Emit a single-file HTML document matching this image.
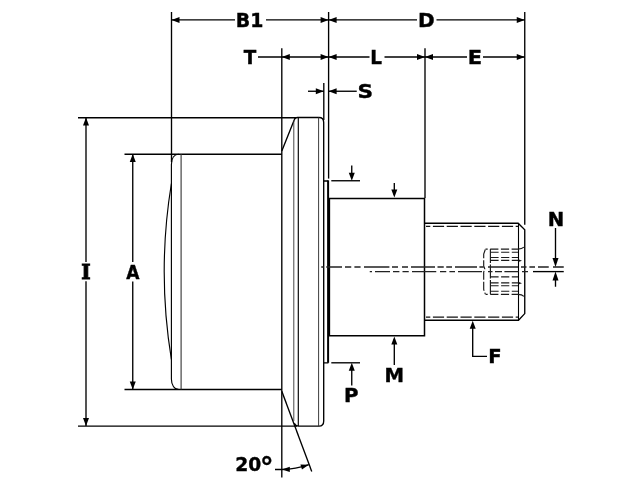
<!DOCTYPE html>
<html lang="en">
<head>
<meta charset="utf-8">
<title>Cam follower dimension drawing</title>
<style>
html,body{margin:0;padding:0;background:#fff;}
body{width:640px;height:480px;overflow:hidden;}
svg{display:block;will-change:transform;}
</style>
</head>
<body>
<svg width="640" height="480" viewBox="0 0 640 480">
<rect width="640" height="480" fill="#fff"/>
<g fill="none" stroke="#000" stroke-width="1.35">
<line x1="171.50" y1="12.00" x2="171.50" y2="162.00"/>
<line x1="281.80" y1="48.30" x2="281.80" y2="477.60"/>
<line x1="328.60" y1="12.00" x2="328.60" y2="178.60"/>
<line x1="425.00" y1="48.30" x2="425.00" y2="198.00"/>
<line x1="524.75" y1="12.00" x2="524.75" y2="224.80"/>
<line x1="323.80" y1="83.00" x2="323.80" y2="120.00"/>
<line x1="171.50" y1="19.90" x2="235.00" y2="19.90"/>
<line x1="266.00" y1="19.90" x2="417.00" y2="19.90"/>
<line x1="436.50" y1="19.90" x2="524.75" y2="19.90"/>
<line x1="258.00" y1="57.00" x2="369.50" y2="57.00"/>
<line x1="384.50" y1="57.00" x2="467.00" y2="57.00"/>
<line x1="483.00" y1="57.00" x2="524.75" y2="57.00"/>
<line x1="308.00" y1="91.25" x2="323.80" y2="91.25"/>
<line x1="328.60" y1="91.25" x2="356.75" y2="91.25"/>
<line x1="78.00" y1="117.70" x2="296.00" y2="117.70"/>
<line x1="78.00" y1="426.10" x2="297.00" y2="426.10"/>
<line x1="86.00" y1="117.50" x2="86.00" y2="262.00"/>
<line x1="86.00" y1="281.20" x2="86.00" y2="426.10"/>
<line x1="124.50" y1="154.20" x2="281.80" y2="154.20"/>
<line x1="124.50" y1="389.50" x2="281.80" y2="389.50"/>
<line x1="132.75" y1="154.00" x2="132.75" y2="262.00"/>
<line x1="132.75" y1="281.50" x2="132.75" y2="389.50"/>
<path d="M179 154.2 C174.2 154.2 171.4 158.5 171.4 164.5 V379 C171.4 385 174.2 389.5 179 389.5" stroke-width="1.15"/>
<path d="M171.4 359.5 A545 545 0 0 1 171.4 183.5" stroke-width="1.15"/>
<path d="M281.8 151 L294.2 119.9 Q295 117.5 297.5 117.5 H319 Q323.7 117.5 323.7 122.5 V421 Q323.7 426.1 319 426.1 H298.5 Q295.3 426 294.3 423.3"/>
<line x1="281.80" y1="391.20" x2="311.75" y2="471.40"/>
<line x1="293.80" y1="121.00" x2="293.80" y2="421.00" stroke="#333" stroke-width="0.9"/>
<line x1="298.30" y1="117.50" x2="298.30" y2="426.10" stroke-width="1.15"/>
<line x1="318.60" y1="117.50" x2="318.60" y2="426.10" stroke="#333" stroke-width="0.95"/>
<path d="M328.4 181 H323.7 M323.7 362.8 H328.4"/>
<line x1="331.30" y1="180.75" x2="360.00" y2="180.75"/>
<line x1="331.30" y1="362.80" x2="360.00" y2="362.80"/>
<line x1="351.75" y1="165.50" x2="351.75" y2="178.00"/>
<line x1="351.75" y1="366.00" x2="351.75" y2="385.50"/>
<line x1="394.30" y1="183.00" x2="394.30" y2="195.00"/>
<line x1="394.30" y1="339.00" x2="394.30" y2="365.00"/>
<path d="M472.7 324 V356.4 H487"/>
<line x1="555.50" y1="228.00" x2="555.50" y2="263.00"/>
<line x1="555.50" y1="276.00" x2="555.50" y2="286.75"/>
<line x1="553.00" y1="267.00" x2="563.75" y2="267.00"/>
<line x1="533.00" y1="271.60" x2="563.75" y2="271.60"/>
<path d="M424.5 223.25 H518.2 L524.75 229.75 V313.6 L518.5 320.2 H424.5"/>
<line x1="518.50" y1="223.25" x2="518.50" y2="320.20" stroke-width="1.1"/>
<path d="M275 469.5 H281.8 A79 79 0 0 0 308.8 464.7"/>
</g>
<line x1="181.1" y1="154" x2="181.1" y2="389.5" stroke="#333" stroke-width="1.1"/>
<path d="M329.4 198.4 H424.5 V335.7 H329.4 Z" fill="none" stroke="#000" stroke-width="1.5"/>
<line x1="328.1" y1="180.4" x2="328.1" y2="362.8" stroke="#000" stroke-width="2" />
<g fill="none" stroke="#111" stroke-width="1.3" stroke-dasharray="11.2 2.6" stroke-dashoffset="6.9">
<line x1="426.00" y1="226.40" x2="518.00" y2="226.40"/>
<line x1="426.00" y1="317.10" x2="518.00" y2="317.10"/>
</g>
<g fill="none" stroke="#1a1a1a" stroke-width="1.15" stroke-dasharray="8.2 2.5">
<path d="M485.5 249.1 H518" stroke-dashoffset="6"/>
<path d="M485.5 294.4 H518" stroke-dashoffset="6"/>
<path d="M518 249.1 Q522 249.1 523.9 247.2 M518 294.4 Q522 294.4 523.9 296.3" stroke-dasharray="none"/>
<path d="M485.3 249.5 L483.7 254 V266 L484.8 269 L483.7 272 V289.5 L485.3 294" stroke-dasharray="9 2"/>
<line x1="490.40" y1="249.10" x2="490.40" y2="294.40" stroke-dasharray="14 1.5"/>
<line x1="490.40" y1="252.25" x2="518.00" y2="252.25"/>
<line x1="490.40" y1="257.50" x2="518.00" y2="257.50"/>
<line x1="490.40" y1="260.30" x2="518.00" y2="260.30"/>
<line x1="490.40" y1="276.90" x2="518.00" y2="276.90"/>
<line x1="490.40" y1="282.90" x2="518.00" y2="282.90"/>
<line x1="490.40" y1="285.70" x2="518.00" y2="285.70"/>
<line x1="490.40" y1="291.25" x2="518.00" y2="291.25"/>
</g>
<g fill="#111" stroke="none">
<polygon points="518.3,259.3 522,260.7 518.3,262"/>
<polygon points="518.3,281.8 522,283.2 518.3,284.5"/>
</g>
<g fill="none" stroke="#222" stroke-width="1.35">
<path d="M321.25 267.00H323.75 M326.25 267.00H342.00 M345.00 267.00H351.25 M354.40 267.00H360.60 M364.00 267.00H389.40 M392.00 267.00H398.00 M402.00 267.00H408.00 M411.00 267.00H435.00 M437.50 267.00H443.75 M446.25 267.00H452.00 M455.00 267.00H477.00 M479.40 267.00H483.75 M488.00 267.00H518.00 M521.00 267.00H526.50 M529.40 267.00H535.00 M538.00 267.00H548.75"/>
<path d="M369.75 271.60H372.00 M375.00 271.60H390.00 M393.00 271.60H399.40 M402.50 271.60H408.75 M412.00 271.60H436.25 M440.00 271.60H446.25 M449.40 271.60H455.00 M458.00 271.60H482.00 M488.00 271.60H492.50 M495.00 271.60H502.00 M504.40 271.60H518.75 M522.00 271.60H528.00"/>
</g>
<g fill="#000" stroke="none">
<polygon points="171.50,19.90 179.50,16.90 179.50,22.90"/>
<polygon points="328.60,19.90 320.60,16.90 320.60,22.90"/>
<polygon points="328.60,19.90 336.60,16.90 336.60,22.90"/>
<polygon points="524.75,19.90 516.75,16.90 516.75,22.90"/>
<polygon points="281.80,57.00 289.80,54.00 289.80,60.00"/>
<polygon points="328.60,57.00 320.60,54.00 320.60,60.00"/>
<polygon points="328.60,57.00 336.60,54.00 336.60,60.00"/>
<polygon points="425.00,57.00 417.00,54.00 417.00,60.00"/>
<polygon points="425.00,57.00 433.00,54.00 433.00,60.00"/>
<polygon points="524.75,57.00 516.75,54.00 516.75,60.00"/>
<polygon points="323.80,91.25 315.80,88.25 315.80,94.25"/>
<polygon points="328.60,91.25 336.60,88.25 336.60,94.25"/>
<polygon points="86.00,117.50 83.00,125.50 89.00,125.50"/>
<polygon points="86.00,426.10 83.00,418.10 89.00,418.10"/>
<polygon points="132.75,154.00 129.75,162.00 135.75,162.00"/>
<polygon points="132.75,389.50 129.75,381.50 135.75,381.50"/>
<polygon points="351.75,180.75 348.75,172.75 354.75,172.75"/>
<polygon points="351.75,362.80 348.75,370.80 354.75,370.80"/>
<polygon points="394.30,197.60 391.30,189.60 397.30,189.60"/>
<polygon points="394.30,336.40 391.30,344.40 397.30,344.40"/>
<polygon points="472.70,320.80 469.70,328.80 475.70,328.80"/>
<polygon points="555.50,267.00 552.50,258.00 558.50,258.00"/>
<polygon points="555.50,271.60 552.50,280.60 558.50,280.60"/>
<polygon points="281.8,469.5 289.8,466.7 289.8,472.0"/>
<polygon points="308.8,464.7 300.4,464.6 302.0,469.6"/>
</g>
<g font-family="'DejaVu Sans', 'Liberation Sans', sans-serif" font-weight="bold" font-size="20.2" fill="#000" stroke="#000" stroke-width="0.4">
<text id="t0" x="235.82" y="26.90" textLength="27.55" lengthAdjust="spacingAndGlyphs">B1</text>
<text id="t1" x="418.11" y="26.80" textLength="16.65" lengthAdjust="spacingAndGlyphs">D</text>
<text id="t2" x="243.75" y="63.80" textLength="12.50" lengthAdjust="spacingAndGlyphs">T</text>
<text id="t3" x="370.29" y="63.90" textLength="11.71" lengthAdjust="spacingAndGlyphs">L</text>
<text id="t4" x="467.68" y="64.00" textLength="14.32" lengthAdjust="spacingAndGlyphs">E</text>
<text id="t5" x="357.45" y="97.80" textLength="15.60" lengthAdjust="spacingAndGlyphs">S</text>
<text id="t6" x="81.24" y="279.00" textLength="9.40" lengthAdjust="spacingAndGlyphs" font-family="'DejaVu Serif', 'Liberation Serif', serif" stroke-width="0.9">I</text>
<text id="t7" x="126.25" y="279.00" textLength="13.22" lengthAdjust="spacingAndGlyphs">A</text>
<text id="t8" x="547.63" y="226.30" textLength="16.49" lengthAdjust="spacingAndGlyphs">N</text>
<text id="t9" x="384.40" y="382.00" textLength="19.56" lengthAdjust="spacingAndGlyphs">M</text>
<text id="t10" x="344.00" y="402.20" textLength="14.50" lengthAdjust="spacingAndGlyphs">P</text>
<text id="t11" x="488.22" y="363.30" textLength="13.35" lengthAdjust="spacingAndGlyphs">F</text>
<text id="t12"><tspan x="235.20" y="471.40" textLength="26.00" lengthAdjust="spacingAndGlyphs">20</tspan><tspan x="260.04" y="475.95" textLength="13.56" lengthAdjust="spacingAndGlyphs" font-size="26">°</tspan></text>
</g>
</svg>
</body>
</html>
